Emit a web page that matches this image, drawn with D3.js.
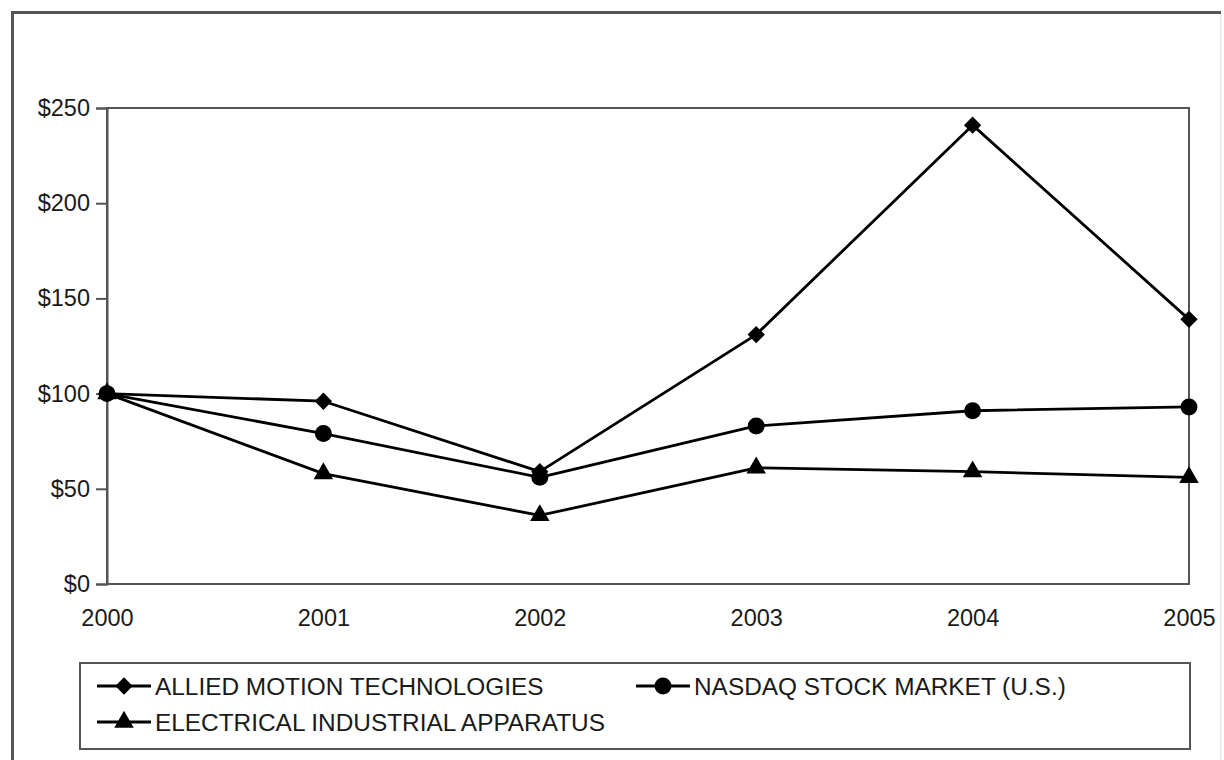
<!DOCTYPE html>
<html><head><meta charset="utf-8">
<script src="https://cdn.jsdelivr.net/npm/d3@7"></script>
<style>
html,body{margin:0;padding:0;background:#fff;}
svg{display:block;}
text{font-family:"Liberation Sans",Arial,Helvetica,sans-serif;fill:#1a1a1a;}
</style></head>
<body>
<svg id="chart" width="1224" height="760"></svg>
<script>
const years = [2000, 2001, 2002, 2003, 2004, 2005];
const allied = [100, 96, 59, 131, 241, 139];
const nasdaq = [100, 79, 56, 83, 91, 93];
const electrical = [100, 58, 36, 61, 59, 56];
const yTicks = [0, 50, 100, 150, 200, 250];
const seriesNames = ["ALLIED MOTION TECHNOLOGIES", "NASDAQ STOCK MARKET (U.S.)", "ELECTRICAL INDUSTRIAL APPARATUS"];

const svg = d3.select("#chart");
const m = {left: 107, top: 108, right: 1189, bottom: 584};

// outer frame
svg.append("rect").attr("x", 12.5).attr("y", 12.5).attr("width", 1208).attr("height", 800)
  .attr("fill", "none").attr("stroke", "#e6e6e6").attr("stroke-width", 1.5);
svg.append("line").attr("x1", 12.5).attr("x2", 12.5).attr("y1", 11).attr("y2", 760)
  .attr("stroke", "#555").attr("stroke-width", 3);
svg.append("line").attr("x1", 11).attr("x2", 1221).attr("y1", 12.5).attr("y2", 12.5)
  .attr("stroke", "#555").attr("stroke-width", 3);

const x = d3.scaleLinear().domain([2000, 2005]).range([m.left, m.right]);
const y = d3.scaleLinear().domain([0, 250]).range([m.bottom, m.top]);

// plot frame
svg.append("rect").attr("x", m.left).attr("y", m.top)
  .attr("width", m.right - m.left).attr("height", m.bottom - m.top)
  .attr("fill", "none").attr("stroke", "#555").attr("stroke-width", 2);

// y axis
const yAxis = d3.axisLeft(y).tickValues(yTicks).tickSize(11).tickPadding(6)
  .tickFormat(d => "$" + d);
const gy = svg.append("g").attr("transform", `translate(${m.left},0)`).call(yAxis);
gy.select(".domain").attr("stroke", "#555").attr("stroke-width", 2);
gy.selectAll(".tick line").attr("stroke", "#555").attr("stroke-width", 2);
gy.selectAll(".tick text").attr("font-size", 23.5).attr("font-family", "Liberation Sans, Arial, sans-serif").attr("fill", "#1a1a1a");

// x axis
const xAxis = d3.axisBottom(x).tickValues(years).tickSize(0).tickPadding(25).tickFormat(d3.format("d"));
const gx = svg.append("g").attr("transform", `translate(0,${m.bottom})`).call(xAxis);
gx.select(".domain").remove();
gx.selectAll(".tick text").attr("font-size", 23.5).attr("font-family", "Liberation Sans, Arial, sans-serif").attr("fill", "#1a1a1a");

const line = d3.line().x((d, i) => x(years[i])).y(d => y(d));

const squareSym = d3.symbol().type(d3.symbolSquare).size(150);
const circle = d3.symbol().type(d3.symbolCircle).size(225);
const triangle = d3.symbol().type(d3.symbolTriangle).size(165);

const series = [
  {name: seriesNames[0], values: allied, sym: squareSym, rot: 45},
  {name: seriesNames[1], values: nasdaq, sym: circle, rot: 0},
  {name: seriesNames[2], values: electrical, sym: triangle, rot: 0}
];

series.forEach(s => {
  svg.append("path").datum(s.values).attr("d", line)
    .attr("fill", "none").attr("stroke", "#000").attr("stroke-width", 2.8).attr("stroke-linejoin", "round");
});
series.forEach(s => {
  svg.selectAll(null).data(s.values).enter().append("path")
    .attr("d", s.sym)
    .attr("transform", (d, i) => `translate(${x(years[i])},${y(d)}) rotate(${s.rot})`)
    .attr("fill", "#000");
});

// legend
svg.append("rect").attr("x", 80).attr("y", 663).attr("width", 1110).attr("height", 86)
  .attr("fill", "#fff").attr("stroke", "#555").attr("stroke-width", 2);

const legendPos = [
  {x: 97, y: 686},
  {x: 636, y: 686},
  {x: 97, y: 722}
];
series.forEach((s, i) => {
  const p = legendPos[i];
  const g = svg.append("g").attr("transform", `translate(${p.x},${p.y})`);
  g.append("line").attr("x1", 0).attr("x2", 54).attr("y1", 0).attr("y2", 0)
    .attr("stroke", "#000").attr("stroke-width", 2.8);
  g.append("path").attr("d", s.sym).attr("transform", `translate(27,0) rotate(${s.rot})`).attr("fill", "#000");
  g.append("text").attr("x", 58).attr("y", 0).attr("dy", "0.36em")
    .attr("font-size", 24.4).text(s.name);
});
</script>
</body></html>
